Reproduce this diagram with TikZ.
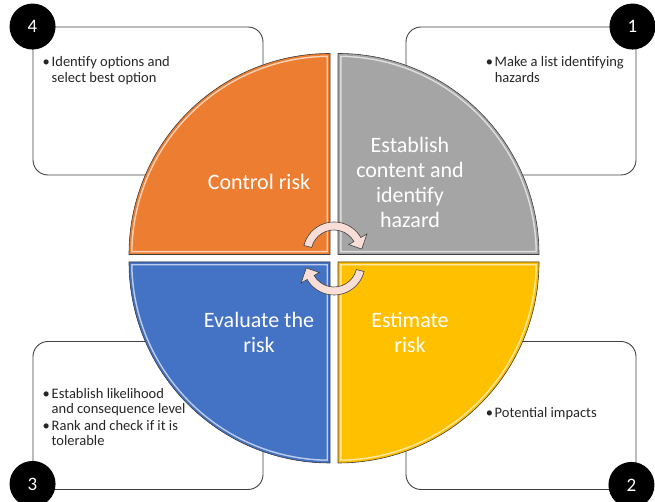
\documentclass[tikz,border=0pt]{standalone}
\usepackage{fontspec}
\setmainfont{Carlito}
\usetikzlibrary{positioning}

\definecolor{qorange}{HTML}{ED7D31}
\definecolor{qgray}{HTML}{A5A5A5}
\definecolor{qyellow}{HTML}{FFC000}
\definecolor{qblue}{HTML}{4472C4}
\definecolor{qpink}{RGB}{248,222,214}
\definecolor{qline}{HTML}{404040}

% пункт списка: точка и строки под ней
\newcommand{\bitem}[1]{\makebox[9bp][l]{\textbullet}\begin{tabular}[t]{@{}l@{}}#1\end{tabular}}

\begin{document}
\begin{tikzpicture}[
        x=1bp, y=1bp,
        quart/.style={draw=qline, line width=0.6bp}, % контур сектора
        box/.style={draw=qline, fill=white, rounded corners=15bp, line width=0.9bp,
                minimum width=230bp, minimum height=148bp}, % рамка с пояснением
        num/.style={circle, fill=black, text=white, minimum size=46bp, inner sep=0pt,
                font=\fontsize{19bp}{19bp}\selectfont}, % номер шага
        note/.style={align=left, inner sep=0pt, text=black!85,
                font=\fontsize{14.5bp}{15.5bp}\selectfont}, % текст в рамке
        lab/.style={text=white, align=center, font=\fontsize{22bp}{25bp}\selectfont}, % подпись сектора
        turn/.style={draw=qline, fill=qpink, line width=0.6bp}, % круговая стрелка
    ]
    \useasboundingbox (0,0) rectangle (655,502);

    % рамки
    \node[box] (b4) at (148,401) {};
    \node[box] (b1) at (521,401) {};
    \node[box] (b3) at (148,86.5) {};
    \node[box] (b2) at (521,86.5) {};

    \node[num] (n4) at (b4.north west) {4};
    \node[num] (n1) at ([xshift=-4bp]b1.north east) {1};
    \node[num] (n3) at ([yshift=6bp]b3.south west) {3};
    \node[num] (n2) at ([xshift=-5bp,yshift=5bp]b2.south east) {2};

    \node[note, below right=29bp and 10bp of b4.north west] (t4) {\bitem{Identify options and\\select best option}};
    \node[note, below right=29bp and 80bp of b1.north west] (t1) {\bitem{Make a list identifying\\hazards}};
    \node[note, below right=46bp and 10bp of b3.north west] (t3) {\bitem{Establish likelihood\\and consequence level}\\\bitem{Rank and check if it is\\tolerable}};
    \node[note, below right=65bp and 80bp of b2.north west] (t2) {\bitem{Potential impacts}};

    % четыре сектора круга
    \foreach \cx/\cy/\a/\col in {330/247.5/180/qorange, 338/247.5/90/qgray, 338/240/0/qyellow, 330/240/270/qblue} {
        \begin{scope}
            \clip (\cx,\cy) -- ++(\a:201) arc[start angle=\a, delta angle=-90, radius=201] -- cycle;
            \fill[\col] (\cx,\cy) -- ++(\a:201) arc[start angle=\a, delta angle=-90, radius=201] -- cycle;
            \draw[line width=7bp, \col!35!white] (\cx,\cy) -- ++(\a:201) arc[start angle=\a, delta angle=-90, radius=201] -- cycle;
            \draw[line width=4bp, \col] (\cx,\cy) -- ++(\a:201) arc[start angle=\a, delta angle=-90, radius=201] -- cycle;
        \end{scope}
        \draw[quart] (\cx,\cy) -- ++(\a:201) arc[start angle=\a, delta angle=-90, radius=201] -- cycle;
    }

    \node[lab] (l4) at (259,320) {Control risk};
    \node[lab] (l1) at (410,320) {Establish\\content and\\identify\\hazard};
    \node[lab] (l3) at (259,169.5) {Evaluate the\\risk};
    \node[lab] (l2) at (410,169.5) {Estimate\\risk};

    % стрелки в центре
    \begin{scope}[shift={(334,249)}]
        \draw[turn] (166:23) arc[start angle=166, end angle=30, radius=23] -- (30:17) -- (8:28)
            -- (30:38) -- (30:31) arc[start angle=30, end angle=166, radius=31] -- cycle;
    \end{scope}
    \begin{scope}[shift={(334,238)}]
        \draw[turn] (-14:23) arc[start angle=-14, end angle=-150, radius=23] -- (-150:17) -- (-172:28)
            -- (-150:38) -- (-150:31) arc[start angle=-150, end angle=-14, radius=31] -- cycle;
    \end{scope}
\end{tikzpicture}
\end{document}
